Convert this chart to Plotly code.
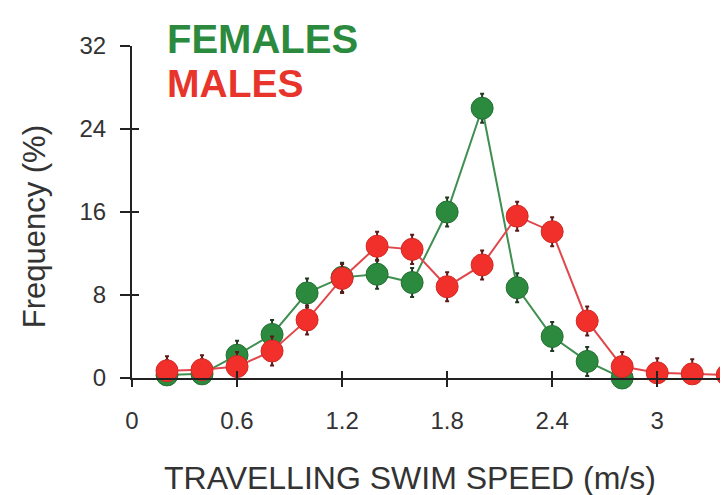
import plotly.graph_objects as go

speed = [0.2, 0.4, 0.6, 0.8, 1.0, 1.2, 1.4, 1.6, 1.8, 2.0, 2.2, 2.4, 2.6, 2.8, 3.0, 3.2, 3.4]
females = [0.3, 0.4, 2.2, 4.2, 8.2, 9.7, 10.0, 9.2, 16.0, 26.0, 8.7, 4.0, 1.6, 0.0]
males = [0.7, 0.8, 1.1, 2.6, 5.6, 9.6, 12.7, 12.4, 8.8, 10.9, 15.6, 14.1, 5.5, 1.1, 0.5, 0.4, 0.3]
fem_err = [1.4] * len(females)
male_err = [1.4] * len(males)

x_ticks = [0, 0.6, 1.2, 1.8, 2.4, 3.0]
x_tick_text = ["0", "0.6", "1.2", "1.8", "2.4", "3"]
y_ticks = [0, 8, 16, 24, 32]

GREEN = "#2b8a3e"
GREEN_LINE = "#3f8f50"
RED = "#f2302b"
RED_LINE = "#e0474c"
FONT = "Liberation Sans, Arial"
AXIS = "#222222"
TXT = "#333333"

fig = go.Figure()
fig.add_trace(go.Scatter(
    x=speed[:len(females)], y=females, mode="lines+markers",
    line=dict(color=GREEN_LINE, width=2),
    marker=dict(size=22, color=GREEN, line=dict(color="#256f33", width=1)),
    error_y=dict(type="data", array=fem_err, color="#1f3a22", thickness=2, width=2),
    cliponaxis=False, showlegend=False))
fig.add_trace(go.Scatter(
    x=speed, y=males, mode="lines+markers",
    line=dict(color=RED_LINE, width=2),
    marker=dict(size=22, color=RED, line=dict(color="#d02a25", width=1)),
    error_y=dict(type="data", array=male_err, color="#5a1a18", thickness=2, width=2),
    cliponaxis=False, showlegend=False))
# dummy trace to draw the inner halves of the crossing tick marks
fig.add_trace(go.Scatter(x=[None], y=[None], xaxis="x2", yaxis="y2",
                         showlegend=False, hoverinfo="skip"))

fig.add_annotation(text="<b>FEMALES</b>", xref="paper", yref="paper", x=0.055, y=1.022,
                   xanchor="left", yanchor="middle", showarrow=False,
                   font=dict(family=FONT, size=40, color=GREEN))
fig.add_annotation(text="<b>MALES</b>", xref="paper", yref="paper", x=0.055, y=0.886,
                   xanchor="left", yanchor="middle", showarrow=False,
                   font=dict(family=FONT, size=39, color="#e8352c"))
fig.add_annotation(text="TRAVELLING SWIM SPEED (m/s)", xref="paper", yref="paper",
                   x=0.46, y=-0.30, xanchor="center", yanchor="middle", showarrow=False,
                   font=dict(family=FONT, size=32, color=TXT))
fig.add_annotation(text="Frequency (%)", xref="paper", yref="paper", textangle=-90,
                   x=-0.16, y=0.455, xanchor="center", yanchor="middle", showarrow=False,
                   font=dict(family=FONT, size=31, color=TXT))

fig.update_layout(
    width=728, height=495,
    margin=dict(l=124, r=0, t=38, b=125),
    plot_bgcolor="white", paper_bgcolor="white",
    font=dict(family=FONT, color=TXT),
    xaxis=dict(range=[0, 3.45], tickvals=x_ticks, ticktext=x_tick_text,
               showline=True, linecolor=AXIS, linewidth=2,
               ticks="outside", ticklen=7, tickwidth=2, tickcolor=AXIS,
               showgrid=False, zeroline=False, ticklabelstandoff=13, automargin=False,
               tickfont=dict(size=24, color=TXT)),
    yaxis=dict(range=[0, 32], tickvals=y_ticks,
               showline=True, linecolor=AXIS, linewidth=2,
               ticks="outside", ticklen=10, tickwidth=2, tickcolor=AXIS,
               showgrid=False, zeroline=False, ticklabelstandoff=9, automargin=False,
               tickfont=dict(size=24, color=TXT)),
    xaxis2=dict(range=[0, 3.45], tickvals=x_ticks, overlaying="x", side="bottom",
                anchor="y2", showline=False, ticks="inside", ticklen=7, tickwidth=2,
                tickcolor=AXIS, showticklabels=False, showgrid=False, zeroline=False),
    yaxis2=dict(range=[0, 32], tickvals=y_ticks, overlaying="y", side="left",
                anchor="x2", showline=False, ticks="inside", ticklen=7, tickwidth=2,
                tickcolor=AXIS, showticklabels=False, showgrid=False, zeroline=False),
)

fig.write_html("out.html")
